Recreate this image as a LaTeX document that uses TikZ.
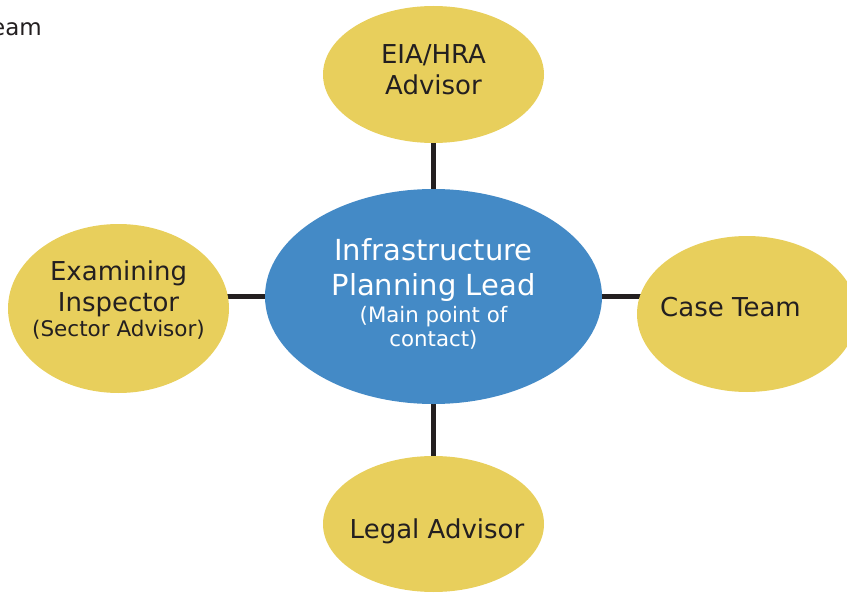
\documentclass[tikz,border=0pt]{standalone}
\usepackage{fontspec}
\setmainfont{DejaVu Sans}
\usetikzlibrary{shapes.geometric}
\definecolor{ellyellow}{RGB}{232,207,92}
\definecolor{ellblue}{RGB}{68,138,198}
\definecolor{ink}{RGB}{35,31,32}
\pgfdeclarelayer{back}
\pgfsetlayers{back,main}
\begin{document}
\begin{tikzpicture}[x=1pt,y=-1pt,
  bubble/.style={ellipse, fill=ellyellow, inner sep=0pt, minimum width=221pt, minimum height=136pt},
  hub/.style={ellipse, fill=ellblue, inner sep=0pt, minimum width=337pt, minimum height=215pt},
  link/.style={draw=ink, line width=4.5pt},
  bigtext/.style={font=\fontsize{26}{31}\selectfont, text=ink, align=center},
  hubtext/.style={font=\fontsize{29}{35}\selectfont, text=white, align=center},
]
\useasboundingbox (0,0) rectangle (847,594);
\node[font=\fontsize{23}{28}\selectfont, text=ink, anchor=base east, inner sep=0pt] (team) at (42,36) {Team};

\node[hub, label={[hubtext, name=ipltext, yshift=2.6pt]center:Infrastructure\\[0pt]Planning Lead\\[-7.3pt]{\fontsize{21.3}{24}\selectfont (Main point of}\\[-11pt]{\fontsize{21.3}{24}\selectfont contact)}}] (ipl) at (433.5,296.5) {};

\node[bubble, minimum height=137pt, label={[bigtext, name=eiatext, yshift=4.5pt]center:EIA/HRA\\Advisor}] (eia) at (433.5,74.5) {};

\node[bubble, label={[bigtext, name=legaltext, xshift=3.5pt, yshift=-7.2pt]center:Legal Advisor}] (legal) at (433.5,524) {};

\node[bubble, minimum height=169pt, label={[bigtext, font=\fontsize{26}{31.7}\selectfont, name=examtext, yshift=8.6pt]center:Examining\\Inspector\\[-6.7pt]{\fontsize{21.5}{25}\selectfont (Sector Advisor)}}] (exam) at (118.5,308.5) {};

\node[bubble, minimum width=220pt, minimum height=156pt, label={[bigtext, name=casetext, xshift=-16.5pt, yshift=7pt]center:Case Team}] (case) at (747,314) {};

\begin{pgfonlayer}{back}
  \draw[link] (ipl.center) -- (eia.center);
  \draw[link] (ipl.center) -- (legal.center);
  \draw[link] (ipl.center) -- (ipl.center -| exam.center);
  \draw[link] (ipl.center) -- (ipl.center -| case.center);
\end{pgfonlayer}
\end{tikzpicture}
\end{document}
